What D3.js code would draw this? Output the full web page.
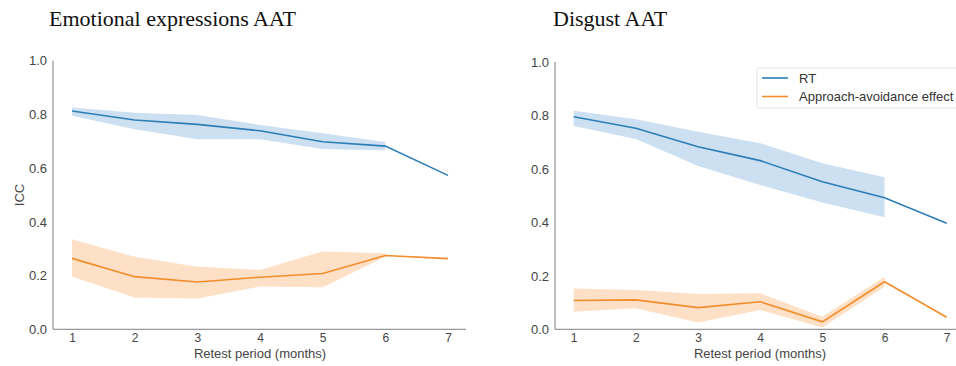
<!DOCTYPE html>
<html><head><meta charset="utf-8">
<script src="https://cdn.jsdelivr.net/npm/d3@7"></script>
<style>body{margin:0;background:#fff;overflow:hidden}svg{display:block}</style>
</head><body>
<svg id="c" width="956" height="366"></svg>
<script>
const months = [1,2,3,4,5,6,7];
const yTicks = [0.0,0.2,0.4,0.6,0.8,1.0];
const seriesNames = ["RT","Approach-avoidance effect"];
const titles = ["Emotional expressions AAT","Disgust AAT"];
// Emotional expressions AAT
const emoRT      = [0.813,0.779,0.763,0.739,0.698,0.682,0.573];
const emoRTHi    = [0.826,0.806,0.798,0.761,0.730,0.697];
const emoRTLo    = [0.795,0.745,0.708,0.708,0.671,0.667];
const emoAA      = [0.264,0.196,0.176,0.194,0.208,0.275,0.263];
const emoAAHi    = [0.335,0.270,0.233,0.221,0.290,0.283];
const emoAALo    = [0.196,0.118,0.115,0.159,0.157,0.270];
// Disgust AAT
const disRT      = [0.795,0.752,0.683,0.631,0.552,0.492,0.397];
const disRTHi    = [0.818,0.786,0.739,0.696,0.621,0.569];
const disRTLo    = [0.761,0.712,0.611,0.540,0.474,0.419];
const disAA      = [0.108,0.110,0.081,0.103,0.028,0.178,0.045];
const disAAHi    = [0.153,0.147,0.132,0.135,0.047,0.197];
const disAALo    = [0.066,0.079,0.025,0.072,0.007,0.159];

const colors = ["#2d7eb7","#f28c2c"];
const fills = ["#cde0f1","#fde0c6"];
const sans = "'Liberation Sans',Arial,sans-serif";

const svg = d3.select("#c");

const panels = [
  {title: titles[0], tx: 49, left: 53, right: 466, x1: 72, x7: 448, top: 60.7, bottom: 329.3,
   series: [[emoRT, emoRTHi, emoRTLo],[emoAA, emoAAHi, emoAALo]], ylabel: true, legend: false, xlab: 260},
  {title: titles[1], tx: 553, left: 555, right: 960, x1: 573.7, x7: 946.7, top: 62, bottom: 329.3,
   series: [[disRT, disRTHi, disRTLo],[disAA, disAAHi, disAALo]], ylabel: false, legend: true, xlab: 760}
];

panels.forEach(p => {
  const g = svg.append("g");
  const x = d3.scaleLinear().domain([1,7]).range([p.x1, p.x7]);
  const y = d3.scaleLinear().domain([0,1]).range([p.bottom, p.top]);

  g.append("text").attr("x", p.tx).attr("y", 26)
    .attr("font-family","'Liberation Serif','Times New Roman',serif")
    .attr("font-size", 22).attr("fill","#111").text(p.title);

  p.series.forEach((s, i) => {
    const [mean, hi, lo] = s;
    const band = months.slice(0, hi.length).map((m, k) => ({m, hi: hi[k], lo: lo[k]}));
    g.append("path").datum(band)
      .attr("d", d3.area().x(d => x(d.m)).y0(d => y(d.lo)).y1(d => y(d.hi)))
      .attr("fill", fills[i]).attr("stroke","none");
  });
  p.series.forEach((s, i) => {
    const mean = s[0];
    g.append("path").datum(months.map((m, k) => ({m, v: mean[k]})))
      .attr("d", d3.line().x(d => x(d.m)).y(d => y(d.v)))
      .attr("fill","none").attr("stroke", colors[i]).attr("stroke-width", 1.6);
  });

  const yAxis = d3.axisLeft(y).tickValues(yTicks).tickFormat(d3.format(".1f")).tickSize(0).tickPadding(6);
  const gy = g.append("g").attr("transform", `translate(${p.left},0)`).call(yAxis);
  const xAxis = d3.axisBottom(x).tickValues(months).tickFormat(d3.format("d")).tickSize(0).tickPadding(4);
  const gx = g.append("g").attr("transform", `translate(0,${p.bottom})`).call(xAxis);
  gy.selectAll("text").attr("font-size", 13);
  gx.selectAll("text").attr("font-size", 12);
  [gx, gy].forEach(a => {
    a.select(".domain").remove();
    a.selectAll("text").attr("font-family", sans).attr("fill","#444");
  });
  g.append("line").attr("x1", p.left).attr("x2", p.left).attr("y1", p.top).attr("y2", p.bottom)
    .attr("stroke","#999").attr("stroke-width",1.3);
  g.append("line").attr("x1", p.left).attr("x2", p.right).attr("y1", p.bottom).attr("y2", p.bottom)
    .attr("stroke","#999").attr("stroke-width",1.3);

  g.append("text").attr("x", p.xlab).attr("y", 358).attr("text-anchor","middle")
    .attr("font-family", sans).attr("font-size", 13).attr("fill","#444")
    .text("Retest period (months)");
  if (p.ylabel) {
    g.append("text").attr("transform", `translate(24,${(p.top+p.bottom)/2}) rotate(-90)`)
      .attr("text-anchor","middle")
      .attr("font-family", sans).attr("font-size", 13).attr("fill","#444")
      .text("ICC");
  }
  if (p.legend) {
    const lg = g.append("g").attr("transform","translate(757,68)");
    lg.append("rect").attr("width", 210).attr("height", 40).attr("fill","#fff")
      .attr("stroke","#e2e2e2").attr("rx", 2);
    seriesNames.forEach((n, i) => {
      const yy = 10 + i * 18.5;
      lg.append("line").attr("x1", 5).attr("x2", 31).attr("y1", yy).attr("y2", yy)
        .attr("stroke", colors[i]).attr("stroke-width", 1.6);
      lg.append("text").attr("x", 42).attr("y", yy + 4.5)
        .attr("font-family", sans).attr("font-size", 13).attr("fill","#333")
        .text(n);
    });
  }
});
</script>
</body></html>
